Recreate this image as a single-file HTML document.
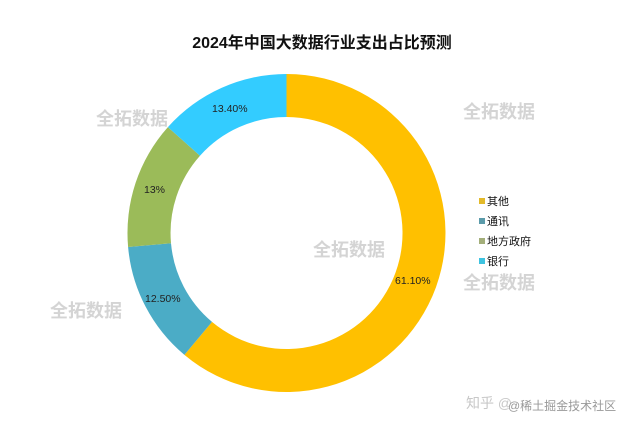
<!DOCTYPE html>
<html><head><meta charset="utf-8"><style>
body{margin:0;background:#fff;}
svg{display:block;font-family:"Liberation Sans","Noto Sans CJK SC",sans-serif;}
.wm{fill:#d4d4d4;font-size:18px;font-weight:bold;}
.lb{font-size:10.5px;fill:#222;}
.lg{font-size:11px;fill:#111;}
</style></head><body>
<svg width="640" height="427" viewBox="0 0 640 427">
<rect width="640" height="427" fill="#fff"/>
<text x="322" y="48" text-anchor="middle" font-size="16" font-weight="bold" fill="#111">2024年中国大数据行业支出占比预测</text>
<path d="M286.5,74 A159,159 0 1 1 184.4,354.9 L212,321.9 A116,116 0 1 0 286.5,117 Z" fill="#FFC000"/>
<path d="M184.4,354.9 A159,159 0 0 1 128.1,247 L171,243.2 A116,116 0 0 0 212,321.9 Z" fill="#4BACC6"/>
<path d="M128.1,247 A159,159 0 0 1 167.9,127.1 L200,155.7 A116,116 0 0 0 171,243.2 Z" fill="#9BBB59"/>
<path d="M167.9,127.1 A159,159 0 0 1 286.5,74 L286.5,117 A116,116 0 0 0 200,155.7 Z" fill="#33CCFF"/>
<text class="wm" x="96" y="125">全拓数据</text>
<text class="wm" x="463" y="118">全拓数据</text>
<text class="wm" x="313" y="256">全拓数据</text>
<text class="wm" x="463" y="289">全拓数据</text>
<text class="wm" x="50" y="317">全拓数据</text>
<text class="lb" x="212" y="112">13.40%</text>
<text class="lb" x="144" y="193">13%</text>
<text class="lb" x="145" y="302">12.50%</text>
<text class="lb" x="395" y="284">61.10%</text>
<rect x="479" y="198" width="6" height="6" fill="#E3BA2A"/><text class="lg" x="487" y="205">其他</text>
<rect x="479" y="218" width="6" height="6" fill="#5B9BAA"/><text class="lg" x="487" y="225">通讯</text>
<rect x="479" y="238" width="6" height="6" fill="#A3AE7A"/><text class="lg" x="487" y="245">地方政府</text>
<rect x="479" y="258" width="6" height="6" fill="#3EC3E0"/><text class="lg" x="487" y="265">银行</text>
<text x="466" y="408" font-size="14" fill="#c8c8c8">知乎 @</text>
<text x="508" y="410" font-size="12" fill="#999">@稀土掘金技术社区</text>
</svg>
</body></html>
